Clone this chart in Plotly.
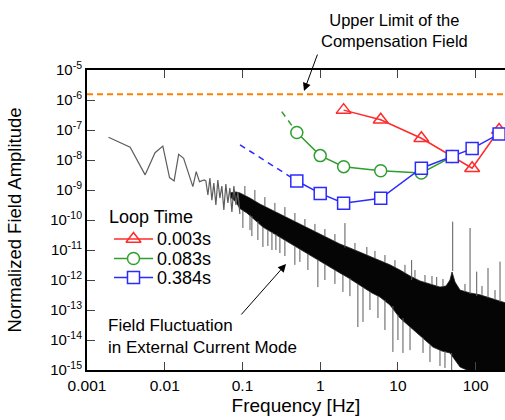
import plotly.graph_objects as go

# ---------------- data ----------------
# loop-time series
legend_labels = ["0.003s", "0.083s", "0.384s"]
f_003 = [2, 6, 20, 90, 200]
v_003 = [4.6e-7, 2.2e-7, 5.3e-8, 5.3e-9, 1.0e-7]
f_083 = [0.5, 1, 2, 6, 20, 50]
v_083 = [8.3e-8, 1.4e-8, 6.0e-9, 4.4e-9, 3.7e-9, 1.3e-8]
f_384 = [0.5, 1, 2, 6, 20, 50, 90, 200]
v_384 = [2.0e-9, 7.7e-10, 3.6e-10, 5.3e-10, 5.3e-9, 1.3e-8, 2.4e-8, 7.4e-8]
# dashed extrapolations toward low frequency
f_083_ext = [0.32, 0.5]
v_083_ext = [4.1e-7, 8.3e-8]
f_384_ext = [0.093, 0.5]
v_384_ext = [3.2e-8, 2.0e-9]

# upper limit of compensation field
limit_freq = [0.001, 250]
limit_val = [1.55e-6, 1.55e-6]

# field fluctuation spectrum (external current mode)
lowf_freq = [0.00189, 0.00359, 0.0056, 0.0075, 0.00945, 0.01153, 0.0132, 0.0151,
             0.0175, 0.023, 0.0254, 0.028, 0.0322, 0.0338, 0.0359, 0.0381, 0.0404,
             0.0428, 0.0455, 0.0482, 0.0512, 0.0543, 0.0576, 0.0611, 0.0649, 0.0689,
             0.0731, 0.0775, 0.0823, 0.0873, 0.0926]
lowf_val = [5.7e-8, 2.65e-8, 3.2e-9, 1.75e-8, 2.9e-8, 2.6e-9, 2.0e-9, 1.55e-8,
            1.14e-8, 1.3e-9, 4.1e-9, 1.9e-9, 2.15e-9, 2.0e-9, 6.8e-10, 2.5e-9, 4.6e-10,
            1.71e-9, 3.2e-10, 2.15e-9, 5.4e-10, 1.36e-9, 2.15e-10, 1.58e-9, 3.7e-10, 1.17e-9,
            1.85e-10, 1.36e-9, 3.2e-10, 8.6e-10, 1.58e-10]

noise_upper_freq = [0.0689, 0.0823, 0.0926, 0.1245, 0.1675, 0.2254, 0.303, 0.4074, 0.548,
                    0.737, 0.991, 1.333, 1.793, 2.41, 3.24, 4.36, 5.87, 7.89, 10.6, 14.3,
                    19.2, 25.8, 34.7, 41.5, 46.7, 49.6, 54.2, 62.9, 84.6, 113.7, 153, 205.6, 245]
noise_upper_val = [8.0e-10, 8.6e-10, 8.0e-10, 5.4e-10, 3.4e-10, 2.33e-10, 1.58e-10, 1.08e-10,
                   7.4e-11, 5.0e-11, 3.4e-11, 2.33e-11, 1.58e-11, 1.17e-11, 8.6e-12, 6.3e-12,
                   4.6e-12, 3.2e-12, 2.15e-12, 1.36e-12, 9.3e-13, 7.4e-13, 5.8e-13, 6.3e-13,
                   1.0e-12, 1.85e-12, 8.6e-13, 4.6e-13, 3.7e-13, 3.2e-13, 2.5e-13, 2.0e-13, 1.71e-13]
noise_lower_freq = [0.0689, 0.0823, 0.0926, 0.114, 0.1445, 0.1832, 0.2393, 0.3030, 0.4074,
                    0.501, 0.635, 0.805, 1.052, 1.333, 1.793, 2.21, 2.80, 3.55, 4.63, 5.87,
                    7.89, 10.6, 14.3, 17.6, 22.3, 28.2, 36.8, 46.7, 54.2, 62.9, 84.6, 245]
noise_lower_val = [6.0e-10, 4.0e-10, 2.4e-10, 1.71e-10, 1.0e-10, 5.8e-11, 4.0e-11, 2.7e-11,
                   1.71e-11, 1.26e-11, 8.6e-12, 5.8e-12, 4.0e-12, 2.7e-12, 1.71e-12, 1.26e-12,
                   8.6e-13, 5.8e-13, 3.7e-13, 2.7e-13, 1.47e-13, 5.4e-14, 2.7e-14, 1.71e-14,
                   1.0e-14, 5.8e-15, 4.3e-15, 3.7e-15, 2.15e-15, 1.26e-15, 9e-16, 9e-16]

# isolated spikes of the spectrum: frequency, start value, tip value
spike_freq = [0.125, 0.1832, 0.2393, 0.303, 0.472, 0.933, 3.05, 3.55, 8.61, 11.6, 14.3,
              21.0, 49.1, 2.08, 3.98, 15.0, 31.5, 50.6, 84.6, 103, 144, 205.6,
              # fine fuzz on the upper edge
              0.1074, 0.1444, 0.1942, 0.2612, 0.3513, 0.4725, 0.6355, 0.855, 1.149, 1.546,
              2.797, 5.058, 6.804, 9.15, 12.31, 16.55, 22.26, 27.4, 37.95, 72.8, 120.5, 177.2,
              # fine fuzz on the lower edge
              0.1012, 0.1321, 0.1578, 0.2123, 0.2691, 0.3513, 0.5479, 0.6945, 1.149, 1.546,
              1.959, 2.411, 4.361, 5.528, 6.804, 10.0, 25.81, 34.72, 40.26]
spike_from = [1.5e-10, 5.8e-11, 4.0e-11, 2.7e-11, 1.3e-11, 4.8e-12, 7.4e-13, 5.8e-13,
              1.36e-13, 5.4e-14, 2.7e-14, 1.2e-14, 3.7e-15, 1.2e-11, 6.8e-12, 1.0e-12,
              6.0e-13, 2.0e-12, 3.4e-13, 2.9e-13, 2.6e-13, 1.85e-13,
              6.8e-10, 4.3e-10, 2.9e-10, 2.0e-10, 1.36e-10, 9.3e-11, 6.3e-11, 4.3e-11, 2.9e-11,
              2.0e-11, 1.0e-11, 5.4e-12, 4.0e-12, 2.7e-12, 1.71e-12, 1.17e-12, 8.6e-13, 6.8e-13,
              5.8e-13, 4.0e-13, 3.2e-13, 2.15e-13,
              2.0e-10, 1.36e-10, 9.3e-11, 4.6e-11, 3.4e-11, 2.15e-11, 1.08e-11, 7.4e-12, 3.4e-12,
              2.15e-12, 1.47e-12, 1.17e-12, 4.0e-13, 2.9e-13, 2.15e-13, 6.8e-14, 6.8e-15,
              4.6e-15, 4.3e-15]
spike_to = [4.6e-11, 1.26e-11, 1.0e-11, 7.9e-12, 3.2e-12, 5.8e-13, 2.7e-14, 4.0e-14,
            4.0e-15, 3.7e-15, 4.6e-15, 3.7e-15, 1.0e-15, 7.9e-11, 1.26e-11, 4.6e-12,
            1.26e-12, 8.8e-11, 5.4e-11, 1.9e-12, 2.5e-12, 4.1e-12,
            1.36e-9, 1.0e-9, 5.8e-10, 3.7e-10, 2.7e-10, 1.71e-10, 1.08e-10, 7.4e-11, 5.0e-11,
            3.4e-11, 1.71e-11, 9.3e-12, 6.8e-12, 4.6e-12, 3.2e-12, 2.15e-12, 1.47e-12, 1.36e-12,
            1.08e-12, 7.4e-13, 6.3e-13, 4.6e-13,
            5.4e-11, 2.9e-11, 2.15e-11, 1.36e-11, 1.0e-11, 6.3e-12, 4.0e-12, 2.15e-12, 1.0e-12,
            7.4e-13, 4.0e-13, 2.9e-13, 1.0e-13, 5.4e-14, 2.15e-14, 1.0e-14, 1.85e-15,
            1.36e-15, 1.17e-15]

x_ticks = [0.001, 0.01, 0.1, 1, 10, 100]
x_ticktext = ["0.001", "0.01", "0.1", "1", "10", "100"]
y_exps = list(range(-15, -4))
y_ticks = [10.0 ** e for e in y_exps]
y_ticktext = ["10<sup>%d</sup>" % e for e in y_exps]

FONT = "Liberation Sans, Arial, Helvetica, sans-serif"
RED = "#ff2a2a"
GREEN = "#2f9e2f"
BLUE = "#2b2bff"

L, T, B = 87, 70, 50
W, H = 505, 420
pw, ph = W - L, H - T - B


def px(xp):
    return (xp - L) / pw


def py(yp):
    return (H - B - yp) / ph


fig = go.Figure()

# noise band polygon
band_x = noise_upper_freq + noise_lower_freq[::-1]
band_y = noise_upper_val + noise_lower_val[::-1]
fig.add_trace(go.Scatter(x=band_x, y=band_y, mode="lines", fill="toself",
                         fillcolor="#050505", line=dict(color="#1a1a1a", width=0.8),
                         showlegend=False, hoverinfo="skip"))
# spikes
sx, sy = [], []
for f, a, b in zip(spike_freq, spike_from, spike_to):
    sx += [f, f, None]
    sy += [a, b, None]
fig.add_trace(go.Scatter(x=sx, y=sy, mode="lines", line=dict(color="#5a5a5a", width=1),
                         showlegend=False, hoverinfo="skip"))
# low-frequency part
fig.add_trace(go.Scatter(x=lowf_freq, y=lowf_val, mode="lines",
                         line=dict(color="#5e5e5e", width=1.2),
                         showlegend=False, hoverinfo="skip"))

# upper limit
fig.add_trace(go.Scatter(x=limit_freq, y=limit_val, mode="lines",
                         line=dict(color="#ff8000", width=2, dash="6px,4px"),
                         showlegend=False, hoverinfo="skip"))

# dashed extrapolations
fig.add_trace(go.Scatter(x=f_083_ext, y=v_083_ext, mode="lines",
                         line=dict(color=GREEN, width=1.5, dash="6px,5px"), showlegend=False))
fig.add_trace(go.Scatter(x=f_384_ext, y=v_384_ext, mode="lines",
                         line=dict(color=BLUE, width=1.5, dash="6px,5px"), showlegend=False))

styles = [
    dict(color=RED, symbol="triangle-up-open", size=13, fill=RED),
    dict(color=GREEN, symbol="circle", size=12, fill="white"),
    dict(color=BLUE, symbol="square", size=12, fill="white"),
]
series = [(f_003, v_003), (f_083, v_083), (f_384, v_384)]
for (fx, fy), st, name in zip(series, styles, legend_labels):
    fig.add_trace(go.Scatter(x=fx, y=fy, mode="lines+markers", name=name, showlegend=False,
                             line=dict(color=st["color"], width=1.5),
                             marker=dict(symbol=st["symbol"], size=st["size"], color=st["fill"],
                                         line=dict(width=1.5, color=st["color"]))))

# manual legend drawn on a hidden overlay axis in pixel-fraction space
legend_rows_y = [239, 258.5, 277.5]
annotations = [
    dict(xref="paper", yref="paper", x=px(107), y=py(217), text="Loop Time",
         showarrow=False, font=dict(size=18), xanchor="left", yanchor="middle"),
]
for st, name, ry in zip(styles, legend_labels, legend_rows_y):
    fig.add_trace(go.Scatter(x=[px(114), px(153)], y=[py(ry), py(ry)], xaxis="x2", yaxis="y2",
                             mode="lines", line=dict(color=st["color"], width=1.5),
                             showlegend=False, hoverinfo="skip"))
    fig.add_trace(go.Scatter(x=[px(133.5)], y=[py(ry)], xaxis="x2", yaxis="y2", mode="markers",
                             marker=dict(symbol=st["symbol"], size=st["size"], color=st["fill"],
                                         line=dict(width=1.5, color=st["color"])),
                             showlegend=False, hoverinfo="skip"))
    annotations.append(dict(xref="paper", yref="paper", x=px(155), y=py(ry), text=name,
                            showarrow=False, font=dict(size=18), xanchor="left",
                            yanchor="middle"))

annotations += [
    dict(xref="paper", yref="paper", x=px(394), y=py(30),
         text="Upper Limit of the<br>Compensation Field",
         showarrow=False, font=dict(size=16.5), align="center", xanchor="center",
         yanchor="middle"),
    dict(xref="paper", yref="paper", x=px(304), y=py(91), text="", showarrow=True,
         ax=14, ay=-38, arrowhead=2, arrowsize=1.6, arrowwidth=1, arrowcolor="black"),
    dict(xref="paper", yref="paper", x=px(106), y=py(336),
         text="Field Fluctuation<br>in External Current Mode",
         showarrow=False, font=dict(size=17), align="left", xanchor="left", yanchor="middle"),
    dict(xref="paper", yref="paper", x=px(286), y=py(264), text="", showarrow=True,
         ax=-46, ay=52, arrowhead=2, arrowsize=1.6, arrowwidth=1, arrowcolor="black"),
]

fig.update_layout(
    width=W, height=H,
    margin=dict(l=L, r=0, t=T, b=B, pad=0),
    paper_bgcolor="white", plot_bgcolor="white",
    font=dict(family=FONT, color="black", size=15),
    showlegend=False,
    xaxis=dict(type="log", range=[-3, 2.377], tickvals=x_ticks, ticktext=x_ticktext,
               ticks="inside", ticklen=8, tickwidth=1, tickcolor="#444",
               showline=True, linecolor="black", linewidth=2, mirror="ticks",
               showgrid=False, zeroline=False, tickfont=dict(size=15.5),
               title=dict(text="Frequency [Hz]", font=dict(size=19), standoff=6)),
    yaxis=dict(type="log", range=[-15, -5], tickvals=y_ticks, ticktext=y_ticktext,
               ticks="inside", ticklen=8, tickwidth=1, tickcolor="#444",
               showline=True, linecolor="black", linewidth=2, mirror=False,
               showgrid=False, zeroline=False, tickfont=dict(size=15),
               title=dict(text="Normalized Field Amplitude", font=dict(size=18.5), standoff=24)),
    yaxis3=dict(type="log", range=[-15, -5], tickvals=y_ticks, overlaying="y", side="right",
                anchor="x", ticks="inside", ticklen=8, tickwidth=1, tickcolor="#444",
                showticklabels=False, showline=False, showgrid=False, zeroline=False),
    xaxis2=dict(overlaying="x", range=[0, 1], visible=False, anchor="y2"),
    yaxis2=dict(overlaying="y", range=[0, 1], visible=False, anchor="x2"),
    annotations=annotations,
)

fig.write_html("out.html")
